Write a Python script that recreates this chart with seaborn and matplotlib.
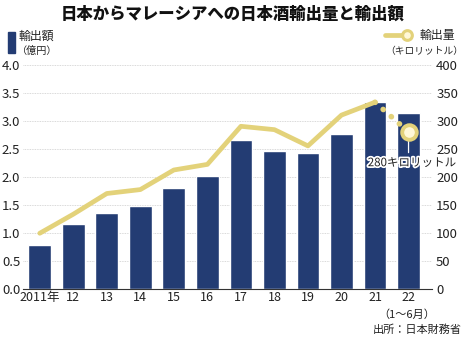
import matplotlib
matplotlib.use("Agg")
import matplotlib.pyplot as plt
import matplotlib.patheffects as pe
import seaborn as sns
import numpy as np
import pandas as pd

years = ["2011年", "12", "13", "14", "15", "16", "17", "18", "19", "20", "21", "22"]
value_oku = [0.78, 1.16, 1.35, 1.48, 1.80, 2.01, 2.65, 2.45, 2.42, 2.77, 3.34, 3.14]
volume_kl = [99, 133, 170, 177, 212, 222, 290, 284, 255, 310, 333, 280]
left_ticks = [0.0, 0.5, 1.0, 1.5, 2.0, 2.5, 3.0, 3.5, 4.0]
right_ticks = [0, 50, 100, 150, 200, 250, 300, 350, 400]

sns.set_theme(style="white")
plt.rcParams['font.family'] = ['Noto Sans CJK JP', 'DejaVu Sans']

NAVY = "#233c73"
GOLD = "#e3d27a"
TXT = "#222222"

fig = plt.figure(figsize=(4.65, 3.4), dpi=100)
ax = fig.add_axes([23/465, 1-288.7/340, (432-23)/465, (288.7-64.7)/340])

df = pd.DataFrame({"year": years, "value": value_oku})
sns.barplot(data=df, x="year", y="value", color=NAVY, width=0.68, ax=ax,
            saturation=1, zorder=2)
ax.set_ylim(0, 4.0)
ax.set_xlim(-0.5, 11.7)
ax.set_yticks(left_ticks)
ax.set_yticklabels([f"{t:.1f}" for t in left_ticks], fontsize=9.5, color=TXT)
ax.set_xticks(range(len(years)))
ax.set_xticklabels(years, fontsize=9, color=TXT)
ax.tick_params(axis="x", length=0, pad=2)
ax.tick_params(axis="y", length=0, pad=2)
ax.set_xlabel("")
ax.set_ylabel("")
ax.yaxis.grid(True, color="#cccccc", linewidth=0.6, linestyle=(0, (1, 1)), zorder=0)
ax.set_axisbelow(True)
for s in ["top", "left", "right"]:
    ax.spines[s].set_visible(False)
ax.spines["bottom"].set_color("#333333")
ax.spines["bottom"].set_linewidth(0.8)

ax2 = ax.twinx()
x_idx = np.arange(len(years))
solid = pd.DataFrame({"x": x_idx[:-1], "y": volume_kl[:-1]})
dotted = pd.DataFrame({"x": x_idx[-2:], "y": volume_kl[-2:]})
sns.lineplot(data=solid, x="x", y="y", color=GOLD, linewidth=3.4, ax=ax2,
             solid_capstyle="round", solid_joinstyle="round")
sns.lineplot(data=dotted, x="x", y="y", color=GOLD, linewidth=4.0, ax=ax2)
ax2.lines[-1].set_linestyle((0, (0.05, 1.9)))
ax2.lines[-1].set_dash_capstyle("round")
ax2.plot(x_idx[-1], volume_kl[-1], marker="o", markersize=10.5, markerfacecolor="#fff8d8",
         markeredgecolor=GOLD, markeredgewidth=2.8, zorder=5)
ax2.set_ylim(0, 400)
ax2.set_xlim(-0.5, 11.7)
ax2.set_yticks(right_ticks)
ax2.set_yticklabels([str(t) for t in right_ticks], fontsize=9.5, color=TXT)
ax2.tick_params(axis="y", length=0, pad=3)
ax2.set_xlabel("")
ax2.set_ylabel("")
for s in ["top", "left", "right", "bottom"]:
    ax2.spines[s].set_visible(False)

# annotation for last point
ax2.annotate("", xy=(x_idx[-1], volume_kl[-1] - 12), xytext=(x_idx[-1], volume_kl[-1] - 42),
             arrowprops=dict(arrowstyle="-", color="white", lw=0.9))
ax2.text(x_idx[-1] + 0.1, volume_kl[-1] - 55, f"{volume_kl[-1]}キロリットル", ha="center", va="center",
         fontsize=8.3, color=TXT,
         path_effects=[pe.withStroke(linewidth=2.5, foreground="white")], zorder=6)

# title
fig.text(0.5, 1-14/340, "日本からマレーシアへの日本酒輸出量と輸出額", ha="center", va="center",
         fontsize=11.8, fontweight="heavy", color="#111111")

# left legend
fig.patches.append(plt.Rectangle((8/465, 1-53/340), 7/465, 21/340, transform=fig.transFigure,
                                 color=NAVY, figure=fig))
fig.text(19/465, 1-36/340, "輸出額", ha="left", va="center", fontsize=8.6, color=TXT)
fig.text(17/465, 1-51/340, "（億円）", ha="left", va="center", fontsize=7.3, color=TXT)

# right legend
fig.add_artist(plt.Line2D([385/465, 403/465], [1-35/340, 1-35/340], transform=fig.transFigure,
                          color=GOLD, linewidth=3.4, solid_capstyle="round"))
fig.add_artist(plt.Line2D([407/465], [1-35/340], transform=fig.transFigure, marker="o",
                          markersize=7, markerfacecolor="#fff8d8", markeredgecolor=GOLD,
                          markeredgewidth=2.2))
fig.text(420/465, 1-35/340, "輸出量", ha="left", va="center", fontsize=8.6, color=TXT)
fig.text(463/465, 1-51/340, "（キロリットル）", ha="right", va="center", fontsize=7, color=TXT)

# bottom notes
fig.text(407/465, 1-315/340, "（1～6月）", ha="center", va="center", fontsize=8, color=TXT)
fig.text(462/465, 1-330/340, "出所：日本財務省", ha="right", va="center", fontsize=8, color=TXT)

fig.savefig("out.png", dpi=100)
